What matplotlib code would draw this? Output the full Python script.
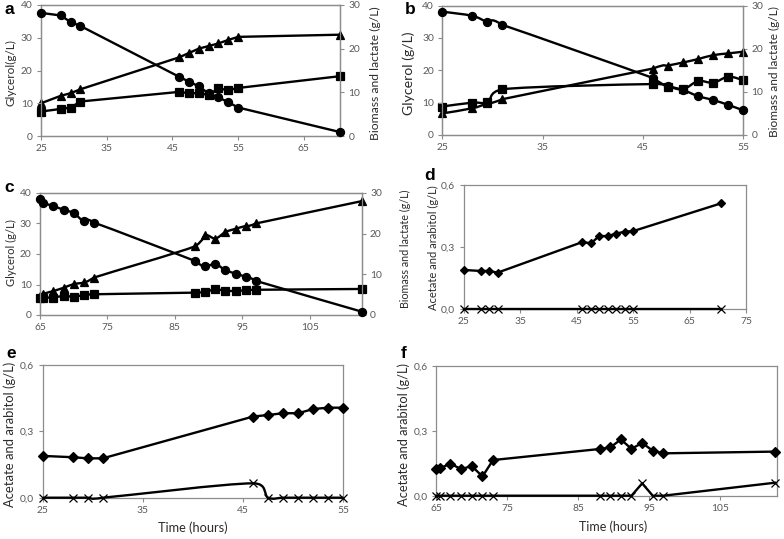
import matplotlib
matplotlib.use('Agg')
import matplotlib.pyplot as plt
import numpy as np
from matplotlib.path import Path
from matplotlib.patches import PathPatch

# ---------------- data ----------------
a_t = [25, 28, 29.5, 31, 46, 47.5, 49, 50.5, 52, 53.5, 55, 70.5]
a_glycerol = [37.6, 36.8, 34.8, 33.6, 18.1, 16.6, 15.2, 13.0, 11.8, 10.3, 8.7, 1.2]
a_triangle = [7.5, 9.2, 9.8, 10.7, 18.0, 19.0, 20.0, 20.6, 21.2, 22.0, 22.7, 23.2]
a_square = [5.6, 6.2, 6.5, 7.9, 10.1, 9.8, 9.8, 9.4, 10.9, 10.5, 11.0, 13.7]

b_t = [25, 28, 29.5, 31, 46, 47.5, 49, 50.5, 52, 53.5, 55]
b_glycerol = [38.1, 36.8, 34.9, 34.0, 17.6, 15.2, 13.9, 12.0, 10.8, 9.3, 7.6]
b_triangle = [5.0, 6.2, 7.3, 8.3, 15.4, 16.1, 16.8, 17.6, 18.5, 18.9, 19.3]
b_square = [6.6, 7.5, 7.6, 10.6, 11.8, 11.2, 10.6, 12.5, 12.1, 13.5, 12.7]

c_t = [65, 65.5, 67, 68.5, 70, 71.5, 73, 88, 89.5, 91, 92.5, 94, 95.5, 97, 112.7]
c_glycerol = [37.9, 36.8, 35.7, 34.5, 33.4, 30.7, 30.3, 17.7, 16.0, 16.7, 14.7, 13.6, 12.5, 11.2, 1.1]
c_triangle = [4.6, 5.2, 5.9, 6.7, 7.6, 8.0, 9.2, 16.9, 19.6, 18.8, 20.4, 21.2, 21.9, 22.5, 28.0]
c_square = [4.2, 4.3, 4.3, 4.7, 4.5, 4.9, 5.1, 5.5, 5.7, 6.3, 6.0, 5.9, 6.1, 6.2, 6.4]

d_t = [25, 28, 29.5, 31, 46, 47.5, 49, 50.5, 52, 53.5, 55, 70.5]
d_diamond = [0.189, 0.184, 0.184, 0.176, 0.324, 0.318, 0.353, 0.353, 0.365, 0.374, 0.377, 0.511]
d_cross = [0, 0, 0, 0, 0, 0, 0, 0, 0, 0, 0, 0]

e_t = [25, 28, 29.5, 31, 46, 47.5, 49, 50.5, 52, 53.5, 55]
e_diamond = [0.189, 0.183, 0.178, 0.178, 0.367, 0.374, 0.382, 0.382, 0.401, 0.407, 0.407]
e_cross = [0, 0, 0, 0, 0.065, 0, 0, 0, 0, 0, 0]

f_t = [65, 65.5, 67, 68.5, 70, 71.5, 73, 88, 89.5, 91, 92.5, 94, 95.5, 97, 112.7]
f_diamond = [0.124, 0.127, 0.148, 0.123, 0.137, 0.089, 0.165, 0.216, 0.223, 0.260, 0.217, 0.244, 0.208, 0.196, 0.204]
f_cross = [0, 0, 0, 0, 0, 0, 0, 0, 0, 0, 0, 0.057, 0, 0, 0.060]

gly_ticks = [0, 10, 20, 30, 40]
bio_ticks = [0, 10, 20, 30]
ace_ticks = [0.0, 0.3, 0.6]
ace_labels = ['0,0', '0,3', '0,6']

# ---------------- style ----------------
plt.rcParams['font.family'] = ['Lato', 'DejaVu Sans']
W, H = 784, 539
fig = plt.figure(figsize=(W / 100, H / 100), dpi=100)
renderer = fig.canvas.get_renderer()

SPINE = '#8c8c8c'
TICKC = '#595959'
LABC = '#2b2b2b'
LW = 1.7
TS = 7.4
LS = 8.8


def rect(l, t, r, b):
    return [l / W, 1 - b / H, (r - l) / W, (b - t) / H]


def fpos(x, y):
    return (x / W, 1 - y / H)


def fit(text, target, vertical=True):
    bb = text.get_window_extent(renderer)
    cur = bb.height if vertical else bb.width
    text.set_fontsize(text.get_fontsize() * target / cur)


def style(ax):
    for s in ax.spines.values():
        s.set_color(SPINE)
        s.set_linewidth(0.9)
    ax.tick_params(direction='out', length=3, width=0.8, color=SPINE,
                   labelcolor=TICKC, labelsize=TS, pad=3)
    ax.set_facecolor('none')


def smooth_path(x, y):
    x = np.asarray(x, float)
    y = np.asarray(y, float)
    n = len(x)
    verts = [(x[0], y[0])]
    codes = [Path.MOVETO]
    for i in range(n - 1):
        xp, yp = (x[i - 1], y[i - 1]) if i > 0 else (x[i], y[i])
        xn, yn = (x[i + 2], y[i + 2]) if i + 2 < n else (x[i + 1], y[i + 1])
        c1x = min(max(x[i] + (x[i + 1] - xp) / 6, x[i]), x[i + 1])
        c2x = min(max(x[i + 1] - (xn - x[i]) / 6, x[i]), x[i + 1])
        c1 = (c1x, y[i] + (y[i + 1] - yp) / 6)
        c2 = (c2x, y[i + 1] - (yn - y[i]) / 6)
        verts += [c1, c2, (x[i + 1], y[i + 1])]
        codes += [Path.CURVE4] * 3
    return Path(verts, codes)


def series(ax, x, y, marker, ms, smooth=False, mew=0.9, mfc='black'):
    if smooth:
        ax.add_patch(PathPatch(smooth_path(x, y), fill=False, ec='black',
                               lw=LW, clip_on=False, zorder=3))
        ax.plot(x, y, ls='none', marker=marker, ms=ms, color='black',
                mfc=mfc, mew=mew, clip_on=False, zorder=4)
    else:
        ax.plot(x, y, '-', color='black', lw=LW, marker=marker, ms=ms,
                mfc=mfc, mew=mew, clip_on=False, zorder=3)


def top_panel(box, t, gly, tri, sq, xlim, xticks, smooth):
    ax = fig.add_axes(rect(*box))
    ax2 = ax.twinx()
    style(ax)
    style(ax2)
    ax.set_zorder(ax2.get_zorder() + 1)
    series(ax2, t, tri, '^', 5.8, smooth)
    series(ax2, t, sq, 's', 5.4, smooth)
    series(ax, t, gly, 'o', 5.8, smooth)
    ax.set_xlim(*xlim)
    ax.set_xticks(xticks)
    ax.set_ylim(0, 40)
    ax.set_yticks(gly_ticks)
    ax2.set_ylim(0, 30)
    ax2.set_yticks(bio_ticks)
    return ax, ax2


def bottom_panel(box, t, dia, cross, xlim, xticks, dms, smooth_cross):
    ax = fig.add_axes(rect(*box))
    style(ax)
    series(ax, t, cross, 'x', 6.2, smooth_cross, mew=0.9)
    series(ax, t, dia, 'D', dms, False)
    ax.set_xlim(*xlim)
    ax.set_xticks(xticks)
    ax.set_ylim(0, 0.6)
    ax.set_yticks(ace_ticks)
    ax.set_yticklabels(ace_labels)
    return ax


def ylab(ax, text, x, y, length):
    lab = ax.set_ylabel(text, fontsize=LS, color=LABC, va='center')
    ax.yaxis.set_label_coords(*fpos(x, y), transform=fig.transFigure)
    fit(lab, length, vertical=True)


def xlab(ax, text, x, y, length):
    lab = ax.set_xlabel(text, fontsize=LS, color=LABC)
    ax.xaxis.set_label_coords(*fpos(x, y), transform=fig.transFigure)
    lab.set_va('center')
    fit(lab, length, vertical=False)


# ---- panel a
axa, axa2 = top_panel((41, 5, 340, 136), a_t, a_glycerol, a_triangle, a_square,
                      (25, 70.5), [25, 35, 45, 55, 65], False)
ylab(axa, 'Glycerol(g/L)', 10.5, 73, 67)
ylab(axa2, 'Biomass and lactate (g/L)', 375, 73, 133)

# ---- panel b
axb, axb2 = top_panel((442.3, 5.5, 743.3, 135), b_t, b_glycerol, b_triangle, b_square,
                      (25, 55), [25, 35, 45, 55], True)
ylab(axb, 'Glycerol (g/L)', 409, 73, 84)
ylab(axb2, 'Biomass and lactate (g/L)', 774, 72, 131)

# ---- panel c
axc, axc2 = top_panel((40, 193, 361.7, 315), c_t, c_glycerol, c_triangle, c_square,
                      (65, 112.7), [65, 75, 85, 95, 105], True)
ylab(axc, 'Glycerol (g/L)', 11, 253, 67)
ylab(axc2, 'Biomass and lactate (g/L)', 405, 249, 118)

# ---- panel d
axd = bottom_panel((463.7, 185, 746.3, 309), d_t, d_diamond, d_cross,
                   (25, 75), [25, 35, 45, 55, 65, 75], 4.3, False)
ylab(axd, 'Acetate and arabitol (g/L)', 433, 248, 124)

# ---- panel e
axe = bottom_panel((42.7, 365, 343.3, 497.7), e_t, e_diamond, e_cross,
                   (25, 55), [25, 35, 45, 55], 4.6, True)
ylab(axe, 'Acetate and arabitol (g/L)', 9.5, 434, 145)
xlab(axe, 'Time (hours)', 193, 528, 69)

# ---- panel f
axf = bottom_panel((436.3, 366, 777, 495.7), f_t, f_diamond, f_cross,
                   (65, 113), [65, 75, 85, 95, 105], 5.4, False)
ylab(axf, 'Acetate and arabitol (g/L)', 404, 434, 144)
xlab(axf, 'Time (hours)', 613, 527, 68)

# ---- panel letters
for letter, (x, y) in zip('abcdef', [(9, 10), (410, 9), (9, 188), (430, 176), (11, 354), (404, 353)]):
    fig.text(*fpos(x, y), letter, fontsize=12.5, fontweight='bold',
             family=['Liberation Sans', 'DejaVu Sans'], ha='center', va='center')

fig.savefig('out.png', dpi=100)
